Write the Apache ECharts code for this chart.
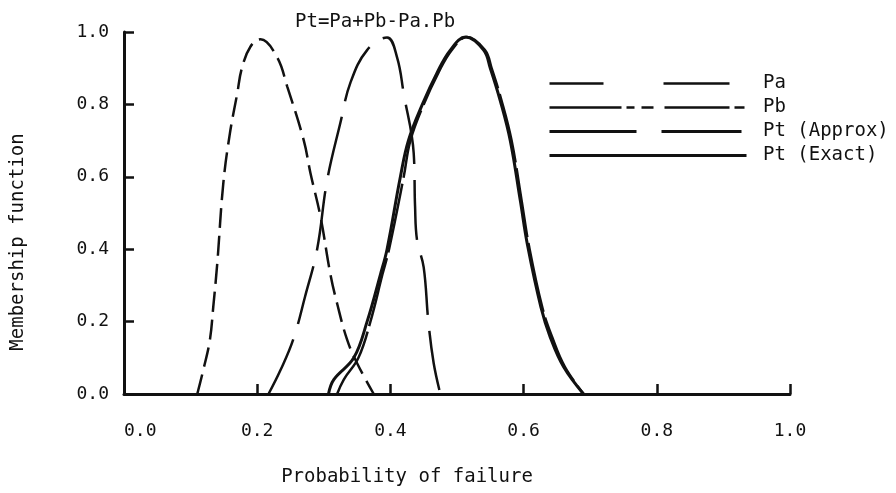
<!DOCTYPE html>
<html>
<head>
<meta charset="utf-8">
<script src="https://cdn.jsdelivr.net/npm/echarts@6/dist/echarts.min.js"></script>
<style>
  html, body { margin: 0; padding: 0; background: #fff; }
  #chart { width: 896px; height: 493px; }
</style>
</head>
<body>
<div id="chart"></div>
<script>
// 数据：点 (x = probability, y = membership)
const paX = [0.217, 0.235, 0.254, 0.272, 0.29, 0.305, 0.325, 0.34, 0.365, 0.395, 0.41, 0.42, 0.435, 0.437, 0.44, 0.45, 0.457, 0.465, 0.475];
const paY = [0, 0.066, 0.15, 0.27, 0.40, 0.59, 0.75, 0.86, 0.95, 0.985, 0.93, 0.83, 0.665, 0.52, 0.425, 0.35, 0.2, 0.085, 0];

const pbX = [0.11, 0.119, 0.129, 0.134, 0.14, 0.149, 0.159, 0.17, 0.177, 0.19, 0.205, 0.23, 0.245, 0.27, 0.28, 0.295, 0.31, 0.32, 0.335, 0.35, 0.375];
const pbY = [0, 0.066, 0.15, 0.24, 0.36, 0.58, 0.72, 0.83, 0.9, 0.96, 0.98, 0.93, 0.85, 0.70, 0.61, 0.49, 0.33, 0.25, 0.15, 0.085, 0];

const ptApproxX = [0.32, 0.33, 0.352, 0.37, 0.388, 0.398, 0.42, 0.43, 0.45, 0.472, 0.492, 0.515, 0.542, 0.552, 0.567, 0.582, 0.597, 0.608, 0.628, 0.643, 0.662, 0.69];
const ptApproxY = [0, 0.04, 0.1, 0.2, 0.33, 0.4, 0.6, 0.70, 0.8, 0.887, 0.95, 0.986, 0.95, 0.9, 0.81, 0.70, 0.535, 0.41, 0.24, 0.157, 0.075, 0];

const ptExactX = [0.307, 0.315, 0.345, 0.365, 0.385, 0.395, 0.415, 0.427, 0.448, 0.47, 0.49, 0.513, 0.54, 0.55, 0.565, 0.58, 0.595, 0.606, 0.626, 0.64, 0.66, 0.69];
const ptExactY = [0, 0.04, 0.1, 0.2, 0.33, 0.4, 0.6, 0.70, 0.8, 0.887, 0.95, 0.986, 0.95, 0.9, 0.81, 0.70, 0.535, 0.41, 0.24, 0.157, 0.075, 0];

const seriesNames = ["Pa", "Pb", "Pt (Approx)", "Pt (Exact)"];

const FONT = "'DejaVu Sans Mono', 'Liberation Mono', monospace";
const INK = "#111";

const chart = echarts.init(document.getElementById("chart"));

const pair = (xs, ys) => xs.map((x, i) => [x, ys[i]]);

// 图例：只画线，不画点
const legendItem = (name, type, width) => ({
  name,
  itemStyle: { opacity: 0 },
  lineStyle: { type, width, color: INK },
});

const option = {
  backgroundColor: "#fff",
  animation: false,
  color: [INK, INK, INK, INK],
  textStyle: { fontFamily: FONT, color: INK },
  title: {
    text: "Pt=Pa+Pb-Pa.Pb",
    left: 290,
    top: 8,
    textStyle: { fontFamily: FONT, fontSize: 19, fontWeight: "normal", color: INK },
  },
  legend: {
    orient: "vertical",
    left: 548,
    top: 74,
    padding: 0,
    itemWidth: 197,
    itemHeight: 14,
    itemGap: 5,
    formatter: " {name}",
    textStyle: { fontFamily: FONT, fontSize: 19, color: INK },
    data: [
      legendItem(seriesNames[0], [54, 60, 66], 2.5),
      legendItem(seriesNames[1], [72, 5, 8, 7, 12, 11, 65, 5, 10], 2.5),
      legendItem(seriesNames[2], [87, 25, 80], 3),
      legendItem(seriesNames[3], "solid", 3),
    ],
  },
  grid: { left: 124, right: 106, top: 32, bottom: 99 },
  xAxis: {
    type: "value",
    min: 0,
    max: 1,
    interval: 0.2,
    name: "Probability of failure",
    nameLocation: "middle",
    nameGap: 74,
    nameTextStyle: { fontFamily: FONT, fontSize: 19, color: INK, padding: [0, 100, 0, 0] },
    axisLine: { show: true, lineStyle: { color: INK, width: 3 } },
    axisTick: { show: true, inside: true, length: 10, lineStyle: { color: INK, width: 2.5 } },
    axisLabel: {
      fontFamily: FONT, fontSize: 18, color: INK, margin: 28,
      alignMinLabel: "left",
      formatter: (v) => v.toFixed(1),
    },
    splitLine: { show: false },
  },
  yAxis: {
    type: "value",
    min: 0,
    max: 1,
    interval: 0.2,
    name: "Membership function",
    nameLocation: "middle",
    nameGap: 96,
    nameTextStyle: { fontFamily: FONT, fontSize: 19, color: INK, padding: [0, 0, 0, -58] },
    axisLine: { show: true, lineStyle: { color: INK, width: 3 } },
    axisTick: { show: true, inside: true, length: 10, lineStyle: { color: INK, width: 2.5 } },
    axisLabel: {
      fontFamily: FONT, fontSize: 18, color: INK, margin: 15,
      formatter: (v) => v.toFixed(1),
    },
    splitLine: { show: false },
  },
  series: [
    {
      name: seriesNames[0], type: "line", smooth: 0.4, symbol: "none",
      lineStyle: { color: INK, width: 2.5, type: [60, 16] },
      data: pair(paX, paY),
    },
    {
      name: seriesNames[1], type: "line", smooth: 0.4, symbol: "none",
      lineStyle: { color: INK, width: 2.5, type: [20, 8] },
      data: pair(pbX, pbY),
    },
    {
      name: seriesNames[2], type: "line", smooth: 0.4, symbol: "none",
      lineStyle: { color: INK, width: 2.5, type: [70, 6] },
      data: pair(ptApproxX, ptApproxY),
    },
    {
      name: seriesNames[3], type: "line", smooth: 0.4, symbol: "none",
      lineStyle: { color: INK, width: 3, type: "solid" },
      data: pair(ptExactX, ptExactY),
    },
  ],
};

chart.setOption(option);
</script>
</body>
</html>
